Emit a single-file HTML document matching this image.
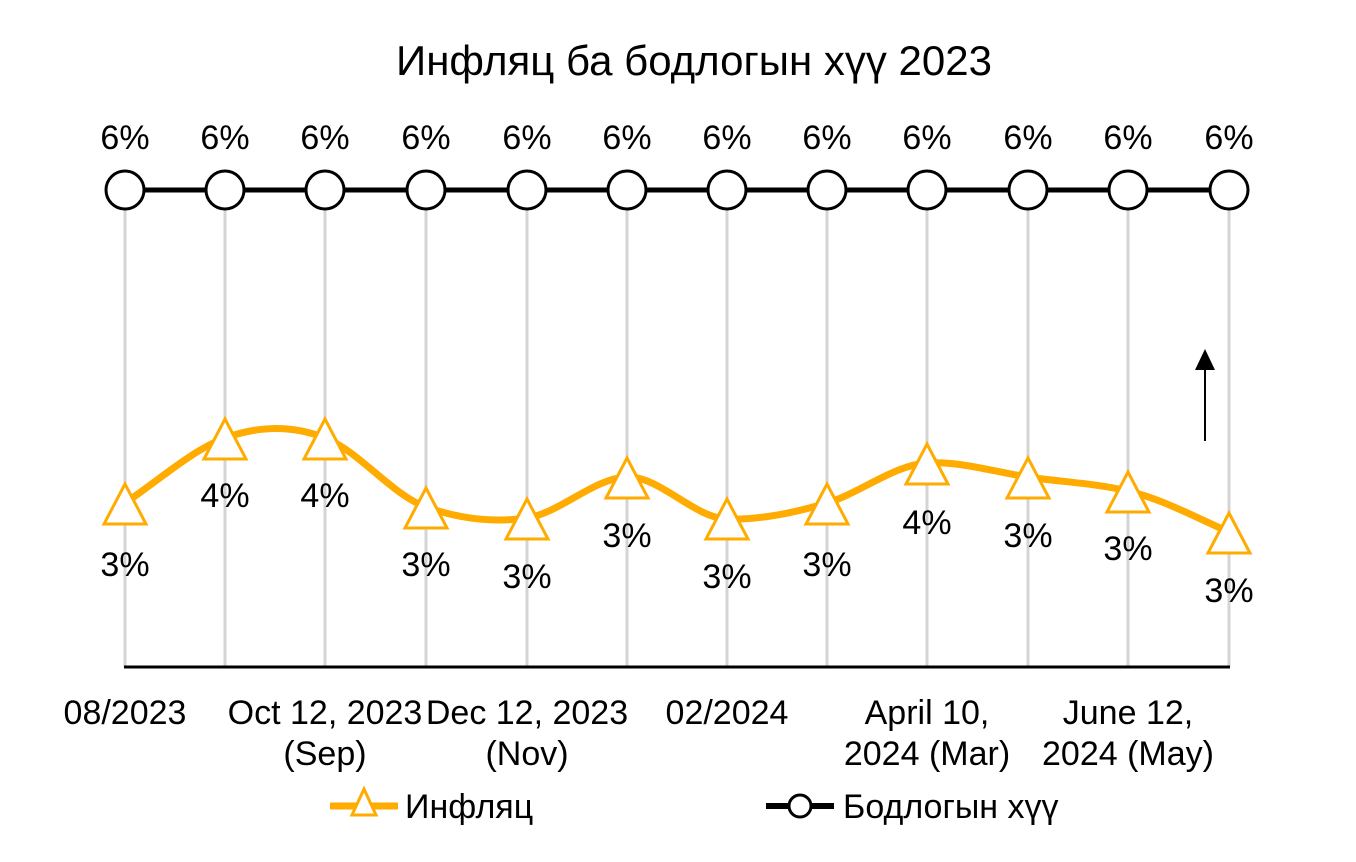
<!DOCTYPE html>
<html><head><meta charset="utf-8"><style>
body{margin:0;background:#fff}
svg{display:block;font-family:"Liberation Sans",Arial,sans-serif}
</style></head><body>
<svg width="1356" height="862" viewBox="0 0 1356 862" xmlns="http://www.w3.org/2000/svg">
<rect width="1356" height="862" fill="#fff"/>
<text x="694" y="75" font-size="42" text-anchor="middle" fill="#000">Инфляц ба бодлогын хүү 2023</text>
<g stroke="#d4d4d4" stroke-width="3">
<line x1="125" y1="190" x2="125" y2="667"/><line x1="225" y1="190" x2="225" y2="667"/><line x1="325" y1="190" x2="325" y2="667"/><line x1="426" y1="190" x2="426" y2="667"/><line x1="527" y1="190" x2="527" y2="667"/><line x1="627" y1="190" x2="627" y2="667"/><line x1="727" y1="190" x2="727" y2="667"/><line x1="827" y1="190" x2="827" y2="667"/><line x1="927" y1="190" x2="927" y2="667"/><line x1="1028" y1="190" x2="1028" y2="667"/><line x1="1128" y1="190" x2="1128" y2="667"/><line x1="1229" y1="190" x2="1229" y2="667"/>
</g>
<line x1="124" y1="667" x2="1230" y2="667" stroke="#000" stroke-width="3"/>
<line x1="125" y1="190" x2="1229" y2="190" stroke="#000" stroke-width="5"/>
<g fill="#fff" stroke="#000" stroke-width="3">
<circle cx="125" cy="190" r="19"/><circle cx="225" cy="190" r="19"/><circle cx="325" cy="190" r="19"/><circle cx="426" cy="190" r="19"/><circle cx="527" cy="190" r="19"/><circle cx="627" cy="190" r="19"/><circle cx="727" cy="190" r="19"/><circle cx="827" cy="190" r="19"/><circle cx="927" cy="190" r="19"/><circle cx="1028" cy="190" r="19"/><circle cx="1128" cy="190" r="19"/><circle cx="1229" cy="190" r="19"/>
</g>
<g font-size="34" text-anchor="middle" fill="#000">
<text x="125" y="149">6%</text><text x="225" y="149">6%</text><text x="325" y="149">6%</text><text x="426" y="149">6%</text><text x="527" y="149">6%</text><text x="627" y="149">6%</text><text x="727" y="149">6%</text><text x="827" y="149">6%</text><text x="927" y="149">6%</text><text x="1028" y="149">6%</text><text x="1128" y="149">6%</text><text x="1229" y="149">6%</text>
</g>
<path d="M125,503 C158,481 192,450 225,438 C258,426 292,425 325,438 C359,451 392,495 426,507 C460,519 493,523 527,518 C560,513 594,478 627,477 C660,476 694,518 727,519 C760,520 794,513 827,503 C860,493 894,465 927,463 C961,461 994,472 1028,477 C1061,482 1094,483 1128,491 C1162,499 1195,517 1229,532" fill="none" stroke="#ffab00" stroke-width="7"/>
<g fill="#fff" stroke="#ffab00" stroke-width="3">
<path d="M125,484 L146,524 L104,524 Z"/><path d="M225,419 L246,459 L204,459 Z"/><path d="M325,419 L346,459 L304,459 Z"/><path d="M426,488 L447,528 L405,528 Z"/><path d="M527,499 L548,539 L506,539 Z"/><path d="M627,458 L648,498 L606,498 Z"/><path d="M727,499 L748,539 L706,539 Z"/><path d="M827,484 L848,524 L806,524 Z"/><path d="M927,444 L948,484 L906,484 Z"/><path d="M1028,458 L1049,498 L1007,498 Z"/><path d="M1128,472 L1149,512 L1107,512 Z"/><path d="M1229,513 L1250,553 L1208,553 Z"/>
</g>
<g font-size="34" text-anchor="middle" fill="#000">
<text x="125" y="576">3%</text><text x="225" y="507">4%</text><text x="325" y="507">4%</text><text x="426" y="576">3%</text><text x="527" y="588">3%</text><text x="627" y="547">3%</text><text x="727" y="588">3%</text><text x="827" y="576">3%</text><text x="927" y="534">4%</text><text x="1028" y="547">3%</text><text x="1128" y="560">3%</text><text x="1229" y="602">3%</text>
</g>
<line x1="1205" y1="441" x2="1205" y2="368" stroke="#000" stroke-width="2"/>
<path d="M1205,349 L1215,370 L1195,370 Z" fill="#000"/>
<g font-size="34" text-anchor="middle" fill="#000">
<text x="125" y="724">08/2023</text>
<text x="325" y="724">Oct 12, 2023</text><text x="325" y="765">(Sep)</text>
<text x="527" y="724">Dec 12, 2023</text><text x="527" y="765">(Nov)</text>
<text x="727" y="724">02/2024</text>
<text x="927" y="724">April 10,</text><text x="927" y="765">2024 (Mar)</text>
<text x="1128" y="724">June 12,</text><text x="1128" y="765">2024 (May)</text>
</g>
<line x1="330" y1="806" x2="398" y2="806" stroke="#ffab00" stroke-width="7"/>
<path d="M364,789 L376,815 L352,815 Z" fill="#fff" stroke="#ffab00" stroke-width="3"/>
<text x="405" y="818" font-size="34" fill="#000">Инфляц</text>
<line x1="766" y1="806" x2="834" y2="806" stroke="#000" stroke-width="6"/>
<circle cx="800" cy="806" r="11" fill="#fff" stroke="#000" stroke-width="3"/>
<text x="843" y="818" font-size="34" fill="#000">Бодлогын хүү</text>
</svg>
</body></html>
